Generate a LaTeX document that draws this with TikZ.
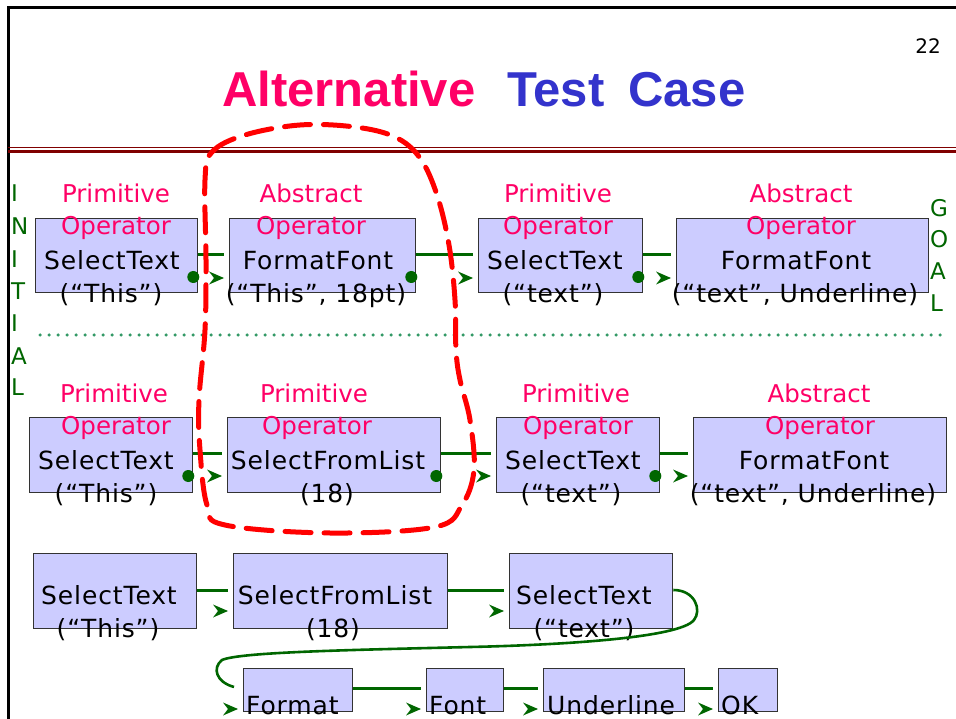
\documentclass[tikz,border=0pt]{standalone}
\usepackage{fontspec}
\setmainfont{DejaVu Sans}
\newfontfamily\titlefont{Liberation Sans}
\newfontfamily\boxfont{DejaVu Sans}[LetterSpace=3.5]
\usetikzlibrary{calc}
\definecolor{pinkc}{HTML}{FF0066}
\definecolor{bluec}{HTML}{3333CC}
\definecolor{boxfill}{HTML}{CCCCFF}
\definecolor{boxedge}{HTML}{333333}
\definecolor{conng}{HTML}{006600}
\definecolor{dotg}{HTML}{339966}
\definecolor{rulered}{HTML}{800000}
\definecolor{loopred}{HTML}{FF0000}
% #1 from node, #2 to node, #3 line offset, #4 arrow offset
\newcommand\linkop[4]{%
  \draw[conn] ($(#1.north east)+(0,#3)$) -- ($(#2.north west)+(-5,#3)$);
  \fill[conng] ($(#2.north west)+(-5,#4)$) -- ++(-15,-6.5) -- ++(5,6.5) -- ++(-5,6.5) -- cycle;}
\newcommand\opdot[1]{\fill[conng] ($(#1.north east)+(-5,59)$) circle[radius=6pt];}
\begin{document}
\begin{tikzpicture}[x=1pt,y=-1pt,
  opbox/.style={draw=boxedge, fill=boxfill, line width=1.3pt, inner sep=0pt, anchor=north west},
  optxt/.style={anchor=base, inner sep=0pt, font=\boxfont\fontsize{25}{30}\selectfont, text=black},
  kindtxt/.style={anchor=base, inner sep=0pt, font=\fontsize{24.5}{30}\selectfont, text=pinkc},
  conn/.style={draw=conng, line width=3pt},
  sidetxt/.style={anchor=base west, inner sep=0pt, font=\fontsize{23}{28}\selectfont, text=conng},
  titletxt/.style={anchor=base west, inner sep=0pt, font=\titlefont\bfseries\fontsize{49}{55}\selectfont},
]
\useasboundingbox (0,0) rectangle (956,719);
\clip (0,0) rectangle (956,719);
\fill[white] (0,0) rectangle (956,719);

% frame
\draw[line width=3pt] (8.5,719) -- (8.5,7.5) -- (956,7.5);
\node[anchor=base, inner sep=0pt, font=\fontsize{20}{24}\selectfont] (pageno) at (928,54) {22};
\node[titletxt, text=pinkc] (titleA) at (222,107) {Alternative};
\node[titletxt, text=bluec] (titleB) at (507,107) {Test};
\node[titletxt, text=bluec] (titleC) at (628,107) {Case};
\draw[rulered, line width=1.5pt] (8,147.5) -- (956,147.5);
\draw[rulered, line width=3pt] (8,151.5) -- (956,151.5);

% side letters
\foreach \ch/\yy [count=\i] in {I/202,N/235,I/268,T/300,I/332,A/364,L/395}
  \node[sidetxt] (ini\i) at (11,\yy) {\ch};
\foreach \ch/\yy [count=\i] in {G/217,O/248,A/280,L/312}
  \node[sidetxt] (goal\i) at (930,\yy) {\ch};

\draw[dotg, line width=3.5pt, line cap=round, dash pattern=on 0pt off 9pt] (40,335) -- (945,335);

% row 1
\node[opbox, minimum width=162pt, minimum height=74pt] (r1a) at (35,218) {};
\node[opbox, minimum width=186pt, minimum height=74pt] (r1b) at (229,218) {};
\node[opbox, minimum width=164pt, minimum height=74pt] (r1c) at (478,218) {};
\node[opbox, minimum width=252pt, minimum height=74pt] (r1d) at (676,218) {};
\node[kindtxt] (r1ak) at (116,203) {Primitive};
\node[kindtxt] (r1ao) at (116,235) {Operator};
\node[optxt] (r1an) at (112,270) {SelectText};
\node[optxt] (r1ap) at (111,303) {(“This”)};
\node[kindtxt] (r1bk) at (311,203) {Abstract};
\node[kindtxt] (r1bo) at (311,235) {Operator};
\node[optxt] (r1bn) at (318,270) {FormatFont};
\node[optxt] (r1bp) at (316,303) {(“This”, 18pt)};
\node[kindtxt] (r1ck) at (558,203) {Primitive};
\node[kindtxt] (r1co) at (558,235) {Operator};
\node[optxt] (r1cn) at (555,270) {SelectText};
\node[optxt] (r1cp) at (553,303) {(“text”)};
\node[kindtxt] (r1dk) at (801,203) {Abstract};
\node[kindtxt] (r1do) at (801,235) {Operator};
\node[optxt] (r1dn) at (796,270) {FormatFont};
\node[optxt] (r1dp) at (795,303) {(“text”, Underline)};
\linkop{r1a}{r1b}{37}{60}
\linkop{r1b}{r1c}{37}{60}
\linkop{r1c}{r1d}{37}{60}
\opdot{r1a}\opdot{r1b}\opdot{r1c}

% row 2
\node[opbox, minimum width=163pt, minimum height=75pt] (r2a) at (29,417) {};
\node[opbox, minimum width=213pt, minimum height=75pt] (r2b) at (227,417) {};
\node[opbox, minimum width=163pt, minimum height=75pt] (r2c) at (496,417) {};
\node[opbox, minimum width=253pt, minimum height=75pt] (r2d) at (693,417) {};
\node[kindtxt] (r2ak) at (114,402) {Primitive};
\node[kindtxt] (r2ao) at (116,434) {Operator};
\node[optxt] (r2an) at (106,469) {SelectText};
\node[optxt] (r2ap) at (106,502) {(“This”)};
\node[kindtxt] (r2bk) at (314,402) {Primitive};
\node[kindtxt] (r2bo) at (317,434) {Operator};
\node[optxt] (r2bn) at (328,469) {SelectFromList};
\node[optxt] (r2bp) at (327,502) {(18)};
\node[kindtxt] (r2ck) at (576,402) {Primitive};
\node[kindtxt] (r2co) at (578,434) {Operator};
\node[optxt] (r2cn) at (573,469) {SelectText};
\node[optxt] (r2cp) at (571,502) {(“text”)};
\node[kindtxt] (r2dk) at (819,402) {Abstract};
\node[kindtxt] (r2do) at (820,434) {Operator};
\node[optxt] (r2dn) at (814,469) {FormatFont};
\node[optxt] (r2dp) at (813,502) {(“text”, Underline)};
\linkop{r2a}{r2b}{36}{59}
\linkop{r2b}{r2c}{36}{59}
\linkop{r2c}{r2d}{36}{59}
\opdot{r2a}\opdot{r2b}\opdot{r2c}

% row 3
\node[opbox, minimum width=163pt, minimum height=75pt] (r3a) at (33,553) {};
\node[opbox, minimum width=214pt, minimum height=75pt] (r3b) at (233,553) {};
\node[opbox, minimum width=163pt, minimum height=75pt] (r3c) at (509,553) {};
\node[optxt] (r3an) at (109,604) {SelectText};
\node[optxt] (r3ap) at (108,637) {(“This”)};
\node[optxt] (r3bn) at (335,604) {SelectFromList};
\node[optxt] (r3bp) at (333,637) {(18)};
\node[optxt] (r3cn) at (584,604) {SelectText};
\node[optxt] (r3cp) at (584,637) {(“text”)};
\linkop{r3a}{r3b}{37}{58}
\linkop{r3b}{r3c}{37}{58}

% row 4
\node[opbox, minimum width=109pt, minimum height=43pt] (r4a) at (243,668) {};
\node[opbox, minimum width=77pt, minimum height=43pt] (r4b) at (426,668) {};
\node[opbox, minimum width=141pt, minimum height=43pt] (r4c) at (543,668) {};
\node[opbox, minimum width=59pt, minimum height=43pt] (r4d) at (718,668) {};
\node[optxt, anchor=base west] (r4at) at (246,714) {Format};
\node[optxt, anchor=base west] (r4bt) at (429,714) {Font};
\node[optxt, anchor=base west] (r4ct) at (547,714) {Underline};
\node[optxt, anchor=base west] (r4dt) at (721,714) {OK};
\coordinate (wrapend) at (234,687);
\draw[conn, line width=2.6pt] ($(r3c.north east)+(0,37)$) .. controls (695,590) and (702,610) .. (694,620)
  .. controls (680,638) and (560,645) .. (470,647)
  .. controls (350,650) and (240,652) .. (222,660)
  .. controls (212,668) and (216,682) .. (wrapend);
\fill[conng] ($(r4a.north west)+(-5,41)$) -- ++(-15,-6.5) -- ++(5,6.5) -- ++(-5,6.5) -- cycle;
\linkop{r4a}{r4b}{20}{41}
\linkop{r4b}{r4c}{20}{41}
\linkop{r4c}{r4d}{20}{41}

% red dashed loop
\draw[loopred, line width=5pt, line cap=round, dash pattern=on 26pt off 13pt]
  plot[smooth cycle, tension=0.6] coordinates {(205,180) (212,152) (245,135) (300,125) (355,127) (395,137) (420,158) (437,195) (449,245) (455,300) (456,350) (460,380) (470,420) (474,470) (462,505) (435,527) (330,533) (225,525) (207,505) (200,450) (199,400) (205,330) (206,260)};
\end{tikzpicture}
\end{document}
